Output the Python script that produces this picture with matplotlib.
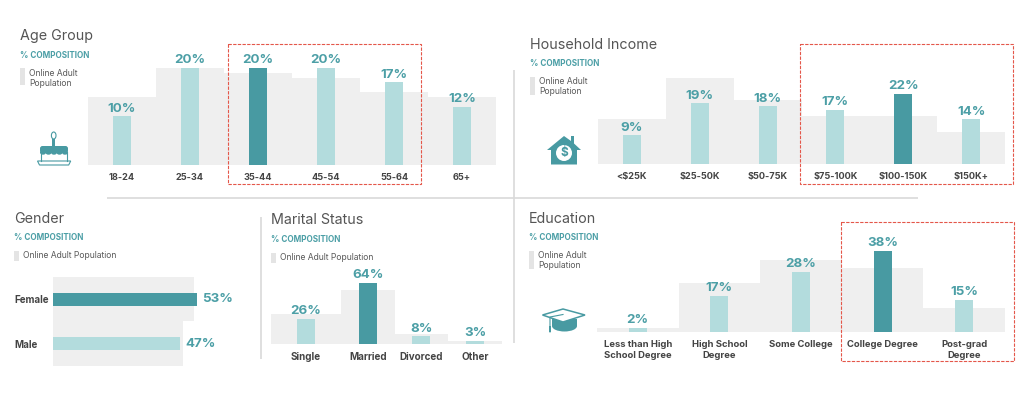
import matplotlib
matplotlib.use('Agg')
import matplotlib.pyplot as plt
from matplotlib.patches import Rectangle, Polygon, Circle, Ellipse, FancyBboxPatch

plt.rcParams['font.family'] = ['Inter', 'DejaVu Sans']

# data, all in percent
age_labels = ['18-24', '25-34', '35-44', '45-54', '55-64', '65+']
age_values = [10, 20, 20, 20, 17, 12]
age_online = [14, 20, 19, 18, 15, 14]

income_labels = ['<$25K', '$25-50K', '$50-75K', '$75-100K', '$100-150K', '$150K+']
income_values = [9, 19, 18, 17, 22, 14]
income_online = [14, 27, 20, 15, 15, 10]

gender_labels = ['Female', 'Male']
gender_values = [53, 47]
gender_online = [52, 48]

marital_labels = ['Single', 'Married', 'Divorced', 'Other']
marital_values = [26, 64, 8, 3]
marital_online = [31, 56, 10.5, 3]

education_labels = ['Less than High\nSchool Degree', 'High School\nDegree', 'Some College',
                    'College Degree', 'Post-grad\nDegree']
education_values = [2, 17, 28, 38, 15]
education_online = [2, 23, 33.6, 30, 11]

W, H = 1024, 401
DARK = '#489aa2'
LIGHT = '#b3dcdd'
BACK = '#efefef'
TEAL_TXT = '#4c9fa6'
GREY_TXT = '#5a5a5a'
LABEL_TXT = '#444444'
SWATCH = '#e4e4e4'
RULE = '#d9d9d9'
RED = '#e4574a'
VALUE_SIZE = 9.6

fig = plt.figure(figsize=(W / 100, H / 100), dpi=100, facecolor='white')


def px_axes(x0, x1, top, bottom):
    ax = fig.add_axes([x0 / W, 1 - bottom / H, (x1 - x0) / W, (bottom - top) / H])
    ax.patch.set_alpha(0)
    for s in ax.spines.values():
        s.set_visible(False)
    return ax


def columns(x0, x1, base, top, px_pct, labels, values, online, hi, edges=None, pad=6, tick_size=6.6):
    ax = px_axes(x0, x1, top, base)
    ax.set_xlim(x0, x1)
    ax.set_ylim(0, (base - top) / px_pct)
    n = len(labels)
    if edges is None:
        step = (x1 - x0) / n
        edges = [x0 + step * i for i in range(n + 1)]
        centers = [(edges[i] + edges[i + 1]) / 2 for i in range(n)]
    else:
        centers = edges[n + 1:]
        edges = edges[:n + 1]
    lefts = edges[:-1]
    widths = [edges[i + 1] - edges[i] for i in range(n)]
    ax.bar(lefts, online, width=widths, align='edge', color=BACK, linewidth=0)
    colors = [DARK if i == hi else LIGHT for i in range(n)]
    ax.bar(centers, values, width=18, color=colors, linewidth=0)
    for c, v in zip(centers, values):
        ax.annotate('%d%%' % v, (c, v), xytext=(0, 1.2), textcoords='offset points',
                    ha='center', va='bottom', fontsize=VALUE_SIZE, fontweight='bold', color=TEAL_TXT)
    ax.set_xticks(centers)
    ax.set_xticklabels(labels, fontsize=tick_size, fontweight='bold', color=LABEL_TXT, linespacing=1.3)
    ax.tick_params(axis='x', length=0, pad=pad)
    ax.set_yticks([])
    return ax


columns(88, 496, 165, 50, 4.86, age_labels, age_values, age_online, 2)
columns(598, 1005, 164, 60, 3.2, income_labels, income_values, income_online, 4)
columns(271, 502, 344, 255, 0.958, marital_labels, marital_values, marital_online, 1,
        edges=[271, 341.3, 394.7, 448, 502, 306, 368, 421.3, 475.3], tick_size=7.1)
columns(597, 1005, 332, 235, 2.14, education_labels, education_values, education_online, 3, tick_size=6.8)

# gender is the only horizontal one
ax = px_axes(53, 240, 277, 365.7)
ax.set_xlim(0, 187 / 2.71)
ax.set_ylim(1.5, -0.5)
rows = list(range(len(gender_labels)))
ax.barh(rows, gender_online, height=1, color=BACK, linewidth=0)
ax.barh(rows, gender_values, height=0.3, color=[DARK, LIGHT], linewidth=0)
for r, v in zip(rows, gender_values):
    ax.annotate('%d%%' % v, (v, r), xytext=(3.6, 0), textcoords='offset points',
                ha='left', va='center', fontsize=VALUE_SIZE, fontweight='bold', color=TEAL_TXT)
ax.set_yticks(rows)
ax.set_yticklabels(gender_labels, fontsize=7, fontweight='bold', color=LABEL_TXT, ha='left')
ax.tick_params(axis='y', length=0, pad=39 * 0.72)
ax.set_xticks([])

# overlay in pixel coordinates for headers, rules and icons
ov = fig.add_axes([0, 0, 1, 1], zorder=5)
ov.set_xlim(0, W)
ov.set_ylim(H, 0)
ov.axis('off')


def header(title, x, y_title, y_comp, swatch_top, swatch_bottom, text_lines):
    ov.text(x, y_title, title, fontsize=10.3, color='#555555', va='center', ha='left')
    ov.text(x, y_comp, '% COMPOSITION', fontsize=5.9, fontweight='bold', color=TEAL_TXT,
            va='center', ha='left')
    ov.add_patch(Rectangle((x, swatch_top), 4.5, swatch_bottom - swatch_top, color=SWATCH, lw=0))
    for yy, line in text_lines:
        ov.text(x + 9, yy, line, fontsize=6.2, color=GREY_TXT, va='center', ha='left')


header('Age Group', 20, 36, 55, 68, 85, [(73, 'Online Adult'), (83, 'Population')])
header('Household Income', 530, 45, 64, 77, 95, [(82, 'Online Adult'), (92, 'Population')])
header('Gender', 14, 219, 237, 251, 261, [(255.5, 'Online Adult Population')])
header('Marital Status', 271, 220, 239, 253, 263, [(258, 'Online Adult Population')])
header('Education', 529, 219, 238, 251, 269, [(256, 'Online Adult'), (266, 'Population')])

# separators
ov.plot([107, 918], [197.7, 197.7], color=RULE, lw=1.2, solid_capstyle='butt')
ov.plot([514, 514], [70, 343], color=RULE, lw=1.2, solid_capstyle='butt')
ov.plot([261, 261], [217, 359], color=RULE, lw=1.2, solid_capstyle='butt')

# highlight boxes
for bx0, bx1, by0, by1 in [(227.5, 420.5, 44, 184), (800, 1013, 44, 184), (841, 1013.5, 221.5, 361)]:
    ov.add_patch(Rectangle((bx0, by0), bx1 - bx0, by1 - by0, fill=False, ec=RED, lw=0.8,
                           ls=(0, (3, 1.2))))

# cake
ov.add_patch(Ellipse((53.7, 135.5), 4.6, 7, fill=False, ec=DARK, lw=0.8))
ov.add_patch(Rectangle((52.2, 139), 3, 7, color=DARK, lw=0))
ov.add_patch(FancyBboxPatch((40, 146), 28, 7, boxstyle='round,pad=0,rounding_size=2.5', color=DARK, lw=0))
for cx in (43, 48.5, 54, 59.5, 65):
    ov.add_patch(Ellipse((cx, 152.5), 6, 4.4, color=DARK, lw=0))
ov.plot([40.8, 40.8], [152, 161], color=DARK, lw=0.8)
ov.plot([67.2, 67.2], [152, 161], color=DARK, lw=0.8)
ov.add_patch(Polygon([(37.5, 161), (70.7, 161), (68.7, 165), (39.5, 165)], fill=False, ec=DARK, lw=0.8))

# house
ov.add_patch(Polygon([(547, 150), (564, 136), (571, 141), (571, 136), (574, 136), (574, 143.5),
                      (581, 150), (577, 150), (577, 164.5), (551, 164.5), (551, 150)], color=DARK, lw=0))
ov.add_patch(Circle((564, 153), 8, color='white', lw=0))
ov.text(564, 153, '$', fontsize=8.5, fontweight='bold', color=DARK, ha='center', va='center')

# graduation cap
ov.add_patch(Rectangle((552, 319), 25, 7, color=DARK, lw=0))
ov.add_patch(Ellipse((564.5, 326), 25, 11, color=DARK, lw=0))
ov.add_patch(Polygon([(542.5, 315), (563, 309), (585, 315), (563, 322)], fc='white', ec=DARK, lw=1.1))
ov.plot([550, 550, 563], [332, 317, 314.5], color=DARK, lw=0.8)
ov.add_patch(Rectangle((549, 326), 2, 6, color=DARK, lw=0))

fig.savefig('out.png', dpi=100)
